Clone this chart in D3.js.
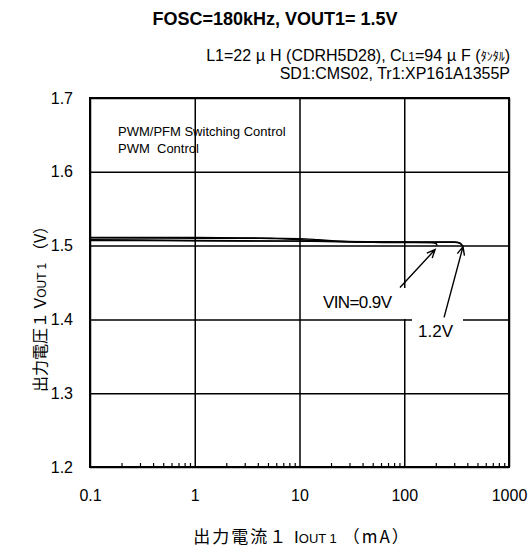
<!DOCTYPE html>
<html>
<head>
<meta charset="utf-8">
<script src="https://cdn.jsdelivr.net/npm/d3@7"></script>
<style>
  body { margin: 0; background: #fff; }
  text { font-family: "Liberation Sans", Arial, sans-serif; fill: #000; }
  .jp { font-family: "Noto Sans CJK JP", sans-serif; }
</style>
</head>
<body>
<div id="chart"></div>
<script>
// axis ticks
const xTicks = [0.1, 1, 10, 100, 1000];
const xTickLabels = ["0.1", "1", "10", "100", "1000"];
const yTicks = [1.2, 1.3, 1.4, 1.5, 1.6, 1.7];
const yTickLabels = ["1.2", "1.3", "1.4", "1.5", "1.6", "1.7"];

// curves: output current (mA) / output voltage (V)
const curveA_I = [0.1, 1, 3, 6, 10, 20, 50, 100, 180, 200, 205];
const curveA_V = [1.511, 1.511, 1.5105, 1.5095, 1.508, 1.506, 1.5045, 1.504, 1.504, 1.503, 1.5];
const curveB_I = [0.1, 1, 5, 10, 15, 25, 40, 100, 300, 340, 360];
const curveB_V = [1.5105, 1.510, 1.510, 1.5095, 1.508, 1.5055, 1.5045, 1.5045, 1.5045, 1.503, 1.4995];
const curveC_I = [0.1, 1, 10, 100, 200, 205];
const curveC_V = [1.508, 1.507, 1.506, 1.5045, 1.504, 1.5005];
const curveD_I = [0.1, 1, 10, 100, 300, 340, 360];
const curveD_V = [1.507, 1.5065, 1.506, 1.505, 1.505, 1.5035, 1.5];

// annotation labels with arrows (data coords)
const vinLabels = ["VIN=0.9V", "1.2V"];
const arrowFrom = [[91, 1.4432], [240, 1.4027]];
const arrowTo = [[197, 1.4946], [364, 1.4986]];

const W = 531, H = 548;
const pLeft = 90, pRight = 509, pTop = 98, pBottom = 467;

const svg = d3.select("#chart").append("svg")
    .attr("width", W)
    .attr("height", H);

const x = d3.scaleLog().domain([0.1, 1000]).range([pLeft, pRight]);
const y = d3.scaleLinear().domain([1.2, 1.7]).range([pBottom, pTop]);

// grid lines
svg.append("g")
    .attr("transform", `translate(0,${pBottom})`)
    .call(d3.axisBottom(x).tickValues(xTicks).tickSize(-(pBottom - pTop)).tickFormat(""))
    .call(g => g.select(".domain").remove())
    .selectAll("line").attr("stroke", "#000").attr("stroke-width", 1.5);

svg.append("g")
    .attr("transform", `translate(${pLeft},0)`)
    .call(d3.axisLeft(y).tickValues(yTicks).tickSize(-(pRight - pLeft)).tickFormat(""))
    .call(g => g.select(".domain").remove())
    .selectAll("line").attr("stroke", "#000").attr("stroke-width", 1.5);

// minor ticks on bottom axis
const minor = [];
[0.1, 1, 10, 100].forEach(d => { for (let k = 2; k <= 9; k++) minor.push(d * k); });
svg.append("g")
    .attr("transform", `translate(0,${pBottom})`)
    .call(d3.axisBottom(x).tickValues(minor).tickSize(-4).tickFormat(""))
    .call(g => g.select(".domain").remove())
    .selectAll("line").attr("stroke", "#000").attr("stroke-width", 1.2);

// white boxes behind the VIN labels
svg.append("rect").attr("x", 318).attr("y", 288).attr("width", 92).attr("height", 31).attr("fill", "#fff");
svg.append("rect").attr("x", 412).attr("y", 319).attr("width", 51).attr("height", 26).attr("fill", "#fff");

// frame
svg.append("rect")
    .attr("x", pLeft).attr("y", pTop)
    .attr("width", pRight - pLeft).attr("height", pBottom - pTop)
    .attr("fill", "none").attr("stroke", "#000").attr("stroke-width", 2);

// curves
const line = d3.line()
    .x(d => x(d[0]))
    .y(d => y(d[1]))
    .curve(d3.curveMonotoneX);

[[curveA_I, curveA_V], [curveB_I, curveB_V], [curveC_I, curveC_V], [curveD_I, curveD_V]].forEach(([is, vs]) => {
    svg.append("path")
        .datum(is.map((c, i) => [c, vs[i]]))
        .attr("d", line)
        .attr("fill", "none")
        .attr("stroke", "#000")
        .attr("stroke-width", 1.4);
});

// arrows
arrowFrom.forEach((f, i) => {
    const x1 = x(f[0]), y1 = y(f[1]);
    const x2 = x(arrowTo[i][0]), y2 = y(arrowTo[i][1]);
    const a = Math.atan2(y2 - y1, x2 - x1);
    const hl = 9, ha = 0.42;
    const p = d3.path();
    p.moveTo(x1, y1); p.lineTo(x2, y2);
    p.moveTo(x2 - hl * Math.cos(a - ha), y2 - hl * Math.sin(a - ha));
    p.lineTo(x2, y2);
    p.lineTo(x2 - hl * Math.cos(a + ha), y2 - hl * Math.sin(a + ha));
    svg.append("path").attr("d", p.toString())
        .attr("fill", "none").attr("stroke", "#000").attr("stroke-width", 1.4);
});

svg.append("text").attr("x", 323).attr("y", 308).attr("font-size", 17)
    .attr("letter-spacing", -0.6).text(vinLabels[0]);
svg.append("text").attr("x", 418).attr("y", 337).attr("font-size", 17).text(vinLabels[1]);

// tick labels
svg.append("g")
    .attr("transform", `translate(0,${pBottom})`)
    .call(d3.axisBottom(x).tickValues(xTicks).tickSize(0).tickPadding(23)
        .tickFormat((d, i) => xTickLabels[i]))
    .call(g => g.select(".domain").remove())
    .selectAll("text").attr("font-size", 16).attr("font-family", null);

svg.append("g")
    .attr("transform", `translate(${pLeft},0)`)
    .call(d3.axisLeft(y).tickValues(yTicks).tickSize(0).tickPadding(17)
        .tickFormat((d, i) => yTickLabels[i]))
    .call(g => g.select(".domain").remove())
    .selectAll("text").attr("font-size", 16).attr("font-family", null);

// title
svg.append("text").attr("x", 275).attr("y", 25).attr("text-anchor", "middle")
    .attr("font-size", 18).attr("font-weight", "bold")
    .text("FOSC=180kHz, VOUT1= 1.5V");

// conditions
const c1 = svg.append("text").attr("x", 510).attr("y", 61).attr("text-anchor", "end").attr("font-size", 16);
c1.append("tspan").text("L1=22 ");
c1.append("tspan").attr("class", "jp").text("μ");
c1.append("tspan").text(" H (CDRH5D28), C");
c1.append("tspan").attr("font-size", 12).text("L1");
c1.append("tspan").text("=94 ");
c1.append("tspan").attr("class", "jp").text("μ");
c1.append("tspan").text(" F (");
c1.append("tspan").attr("class", "jp").attr("font-size", 12).text("ﾀﾝﾀﾙ");
c1.append("tspan").text(")");
svg.append("text").attr("x", 510).attr("y", 79).attr("text-anchor", "end").attr("font-size", 16)
    .text("SD1:CMS02, Tr1:XP161A1355P");

// legend text
svg.append("text").attr("x", 118).attr("y", 136).attr("font-size", 13).text("PWM/PFM Switching Control");
svg.append("text").attr("x", 118).attr("y", 153).attr("font-size", 13).attr("xml:space", "preserve").text("PWM  Control");

// axis titles
const xl = svg.append("text").attr("x", 302).attr("y", 543).attr("text-anchor", "middle").attr("font-size", 17);
xl.append("tspan").attr("class", "jp").attr("letter-spacing", 2).text("出力電流１ ");
xl.append("tspan").text(" I");
xl.append("tspan").attr("font-size", 13).text("OUT 1");
xl.append("tspan").attr("class", "jp").attr("letter-spacing", 2).text(" （mA）");

const yl = svg.append("text").attr("transform", "translate(46,305) rotate(-90)")
    .attr("text-anchor", "middle").attr("font-size", 16);
yl.append("tspan").attr("class", "jp").text("出力電圧１  ");
yl.append("tspan").text("V");
yl.append("tspan").attr("font-size", 12).text("OUT 1");
yl.append("tspan").attr("class", "jp").text(" （V）");
</script>
</body>
</html>
